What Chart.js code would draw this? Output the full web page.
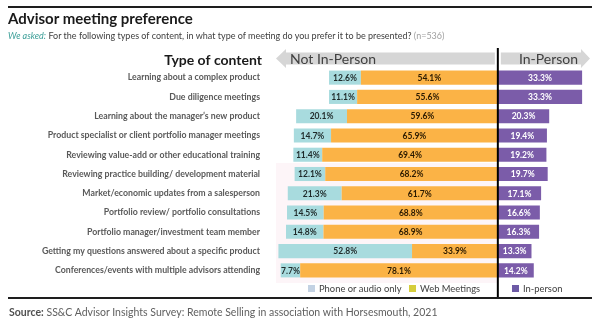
<!DOCTYPE html>
<html lang="en">
<head>
<meta charset="UTF-8">
<title>Advisor meeting preference</title>
<script src="https://cdn.jsdelivr.net/npm/chart.js"></script>
<style>
  html, body { margin: 0; padding: 0; background: #fff; }
  body { width: 600px; height: 326px; position: relative; overflow: hidden; font-family: Lato, "Open Sans", sans-serif; }
  .rule-top { position: absolute; left: 8px; top: 6px; width: 584px; height: 2px; background: #1e1e1e; }
  .rule-bottom { position: absolute; left: 8px; top: 297px; width: 584px; height: 2px; background: #1e1e1e; }
  .title { position: absolute; left: 8px; top: 9px; font-size: 15px; font-weight: bold; color: #1a1a1a; }
  .subtitle { position: absolute; left: 8px; top: 30px; font-size: 9px; color: #404040; white-space: nowrap; }
  .subtitle .asked { color: #3a9e97; font-style: italic; }
  .subtitle .n { color: #a0a0a0; }
  .source { position: absolute; left: 9px; top: 306px; font-size: 10.5px; color: #606060; white-space: nowrap; }
  .source b { color: #505050; }
  canvas { position: absolute; left: 0; top: 0; }
</style>
</head>
<body>
<canvas id="chart" width="600" height="326"></canvas>
<div class="rule-top"></div>
<div class="title">Advisor meeting preference</div>
<div class="subtitle"><span class="asked">We asked:</span> For the following types of content, in what type of meeting do you prefer it to be presented? <span class="n">(n=536)</span></div>
<div class="rule-bottom"></div>
<div class="source"><b>Source:</b> SS&amp;C Advisor Insights Survey: Remote Selling in association with Horsesmouth, 2021</div>

<script>
    // content types, top to bottom
    const categories = [
        'Learning about a complex product',
        'Due diligence meetings',
        'Learning about the manager\u2019s new product',
        'Product specialist or client portfolio manager meetings',
        'Reviewing value-add or other educational training',
        'Reviewing practice building/ development material',
        'Market/economic updates from a salesperson',
        'Portfolio review/ portfolio consultations',
        'Portfolio manager/investment team member',
        'Getting my questions answered about a specific product',
        'Conferences/events with multiple advisors attending'
    ];
    const phoneOnly = [12.6, 11.1, 20.1, 14.7, 11.4, 12.1, 21.3, 14.5, 14.8, 52.8, 7.7];
    const webMeetings = [54.1, 55.6, 59.6, 65.9, 69.4, 68.2, 61.7, 68.8, 68.9, 33.9, 78.1];
    const inPerson = [33.3, 33.3, 20.3, 19.4, 19.2, 19.7, 17.1, 16.6, 16.3, 13.3, 14.2];

    const TEAL = '#a8dbde';
    const ORANGE = '#fbb346';
    const PURPLE = '#7b5ca9';
    const FONT = 'Lato, "Open Sans", sans-serif';

    // value labels in the middle of every bar segment
    const barLabels = {
        id: 'barLabels',
        afterDatasetsDraw(chart) {
            const ctx = chart.ctx;
            ctx.save();
            ctx.font = 'bold 8.5px ' + FONT;
            ctx.textAlign = 'center';
            ctx.textBaseline = 'middle';
            chart.data.datasets.forEach((ds, i) => {
                chart.getDatasetMeta(i).data.forEach((bar, j) => {
                    const v = Math.abs(ds.data[j]);
                    ctx.fillStyle = ds.labelColor;
                    ctx.fillText(v.toFixed(1) + '%', (bar.x + bar.base) / 2, bar.y + 0.5);
                });
            });
            ctx.restore();
        }
    };

    // header arrows, divider and legend
    const decorations = {
        id: 'decorations',
        beforeDatasetsDraw(chart) {
            const ctx = chart.ctx;
            const zero = chart.scales.x.getPixelForValue(0);
            ctx.save();
            // faint backdrop behind the lower rows
            ctx.fillStyle = '#fdf5f8';
            ctx.fillRect(276, 163, zero - 276, 120);

            ctx.fillStyle = '#1a1a1a';
            ctx.font = 'bold 14px ' + FONT;
            ctx.textAlign = 'right';
            ctx.textBaseline = 'alphabetic';
            ctx.fillText('Type of content', 262, 65);

            // left arrow
            ctx.fillStyle = '#d6d6d6';
            ctx.beginPath();
            ctx.moveTo(276, 58.5);
            ctx.lineTo(286, 49);
            ctx.lineTo(286, 52.5);
            ctx.lineTo(zero - 3, 52.5);
            ctx.lineTo(zero - 3, 64.5);
            ctx.lineTo(286, 64.5);
            ctx.lineTo(286, 68);
            ctx.closePath();
            ctx.fill();
            // right arrow
            ctx.beginPath();
            ctx.moveTo(zero + 3, 52.5);
            ctx.lineTo(581, 52.5);
            ctx.lineTo(581, 49);
            ctx.lineTo(590, 58.5);
            ctx.lineTo(581, 68);
            ctx.lineTo(581, 64.5);
            ctx.lineTo(zero + 3, 64.5);
            ctx.closePath();
            ctx.fill();

            ctx.fillStyle = '#404040';
            ctx.font = '14px ' + FONT;
            ctx.textAlign = 'left';
            ctx.fillText('Not In-Person', 290, 64);
            ctx.textAlign = 'right';
            ctx.fillText('In-Person', 578, 64);
            ctx.restore();
        },
        afterDraw(chart) {
            const ctx = chart.ctx;
            const zero = chart.scales.x.getPixelForValue(0);
            ctx.save();
            ctx.strokeStyle = '#000';
            ctx.lineWidth = 2;
            ctx.beginPath();
            ctx.moveTo(zero, 48);
            ctx.lineTo(zero, 297);
            ctx.stroke();

            const items = [
                { text: 'Phone or audio only', color: '#c3d2e3', x: 308 },
                { text: 'Web Meetings', color: '#d5cd3c', x: 409 },
                { text: 'In-person', color: '#6d5aa6', x: 512 }
            ];
            ctx.font = '9.4px ' + FONT;
            ctx.textAlign = 'left';
            ctx.textBaseline = 'middle';
            items.forEach(it => {
                ctx.fillStyle = it.color;
                ctx.fillRect(it.x, 285, 7, 7);
                ctx.fillStyle = '#404040';
                ctx.fillText(it.text, it.x + 11, 288.5);
            });
            ctx.restore();
        }
    };

    const barOpts = { barPercentage: 0.73, categoryPercentage: 1, borderWidth: 0 };

    new Chart(document.getElementById('chart'), {
        type: 'bar',
        data: {
            labels: categories,
            datasets: [
                Object.assign({ label: 'Web Meetings', data: webMeetings.map(v => -v), backgroundColor: ORANGE, labelColor: '#2a1a00' }, barOpts),
                Object.assign({ label: 'Phone or audio only', data: phoneOnly.map(v => -v), backgroundColor: TEAL, labelColor: '#1f2a2a' }, barOpts),
                Object.assign({ label: 'In-person', data: inPerson, backgroundColor: PURPLE, labelColor: '#ffffff' }, barOpts)
            ]
        },
        options: {
            indexAxis: 'y',
            responsive: false,
            animation: false,
            devicePixelRatio: 1,
            layout: { padding: { top: 68, bottom: 46, right: 6, left: 0 } },
            plugins: { legend: { display: false }, tooltip: { enabled: false } },
            scales: {
                x: { stacked: true, display: false, min: -92, max: 38 },
                y: {
                    stacked: true,
                    grid: { display: false, drawTicks: false },
                    border: { display: false },
                    ticks: {
                        autoSkip: false,
                        padding: 5,
                        color: '#595959',
                        font: { family: FONT, size: 8.75, weight: 'bold' }
                    },
                    afterFit(scale) { scale.width = 265; }
                }
            }
        },
        plugins: [decorations, barLabels]
    });
</script>
</body>
</html>
